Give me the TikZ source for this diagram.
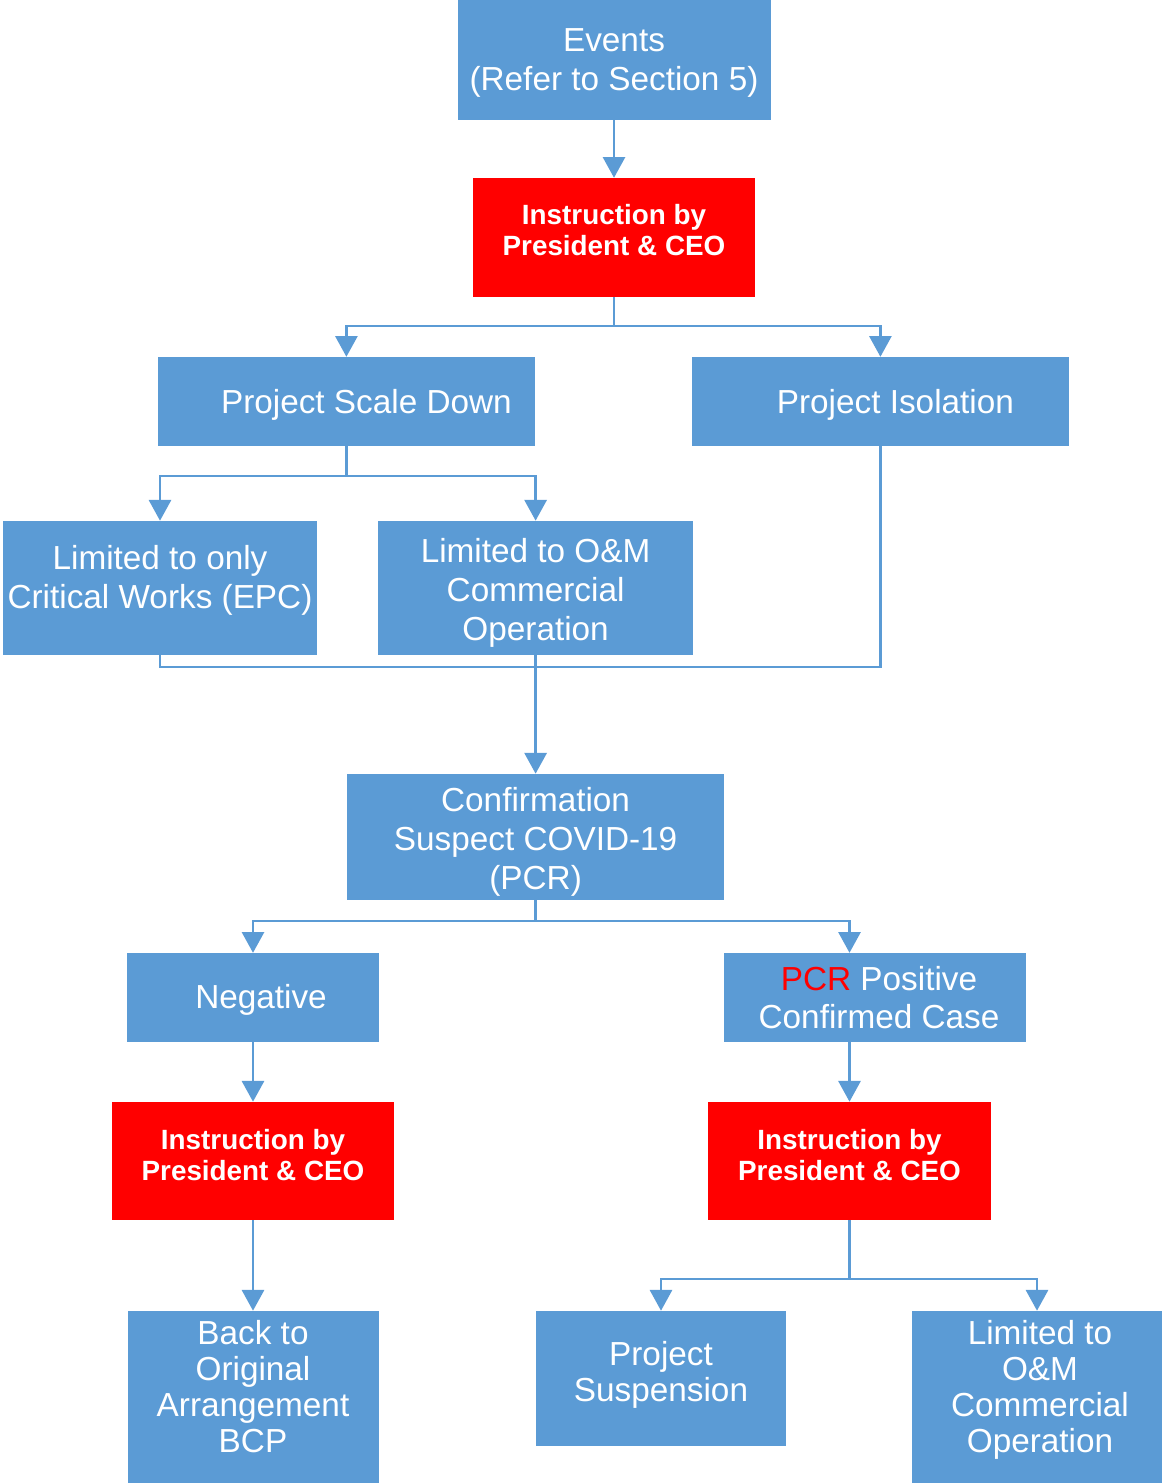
\documentclass[tikz,border=0pt]{standalone}
\usepackage{fontspec}
\setmainfont{Liberation Sans}
\usetikzlibrary{arrows.meta}
\definecolor{boxblue}{HTML}{5B9BD5}
\definecolor{linkblue}{HTML}{5B9BD5}
\tikzset{
  bluebox/.style={fill=boxblue, inner sep=0pt},
  redbox/.style={fill=red, inner sep=0pt},
  boxtext/.style={text=white, align=center, inner sep=0pt,
    font=\fontsize{23.7pt}{27.7pt}\selectfont},
  talltext/.style={boxtext, font=\fontsize{23.7pt}{25.6pt}\selectfont},
  redtext/.style={boxtext, font=\bfseries\fontsize{19.8pt}{22pt}\selectfont},
  wire/.style={draw=linkblue, line width=2.1pt},
  link/.style={wire, -{Triangle[width=0.55cm,length=0.52cm]}},
}
\begin{document}
\begin{tikzpicture}
    \useasboundingbox (0,0) rectangle (29.05,-37.075);

    % Top of the chart
    \node[bluebox, minimum width=7.825cm, minimum height=3cm,
      label={[boxtext, yshift=-0.075cm]center:Events\\(Refer to Section 5)}] (events) at (15.35,-1.5) {};
    \node[redbox, minimum width=7.05cm, minimum height=2.975cm,
      label={[redtext, yshift=0.2cm]center:Instruction by\\President \& CEO}] (instr1) at (15.35,-5.94) {};

    % Scale down or isolation
    \node[bluebox, minimum width=9.425cm, minimum height=2.225cm,
      label={[boxtext, xshift=0.5cm, yshift=-0.075cm]center:Project Scale Down}] (scale) at (8.66,-10.04) {};
    \node[bluebox, minimum width=9.425cm, minimum height=2.225cm,
      label={[boxtext, xshift=0.375cm, yshift=-0.075cm]center:Project Isolation}] (isol) at (22.01,-10.04) {};

    \node[bluebox, minimum width=7.85cm, minimum height=3.35cm,
      label={[boxtext, yshift=0.2cm]center:Limited to only\\Critical Works (EPC)}] (critical) at (4.0,-14.7) {};
    \node[bluebox, minimum width=7.875cm, minimum height=3.35cm,
      label={[boxtext, yshift=-0.125cm]center:Limited to O\&M\\Commercial\\Operation}] (omtop) at (13.39,-14.7) {};

    % PCR check
    \node[bluebox, minimum width=9.425cm, minimum height=3.15cm,
      label={[boxtext, yshift=-0.125cm]center:Confirmation\\Suspect COVID-19\\(PCR)}] (confirm) at (13.39,-20.925) {};
    \node[bluebox, minimum width=6.3cm, minimum height=2.225cm,
      label={[boxtext, xshift=0.2cm, yshift=-0.05cm]center:Negative}] (negative) at (6.325,-24.94) {};
    \node[bluebox, minimum width=7.55cm, minimum height=2.225cm,
      label={[boxtext, xshift=0.1cm]center:\textcolor{red}{PCR} Positive\\Confirmed Case}] (positive) at (21.875,-24.94) {};

    \node[redbox, minimum width=7.05cm, minimum height=2.95cm,
      label={[redtext, yshift=0.15cm]center:Instruction by\\President \& CEO}] (instr2) at (6.325,-29.025) {};
    \node[redbox, minimum width=7.075cm, minimum height=2.95cm,
      label={[redtext, yshift=0.15cm]center:Instruction by\\President \& CEO}] (instr3) at (21.2375,-29.025) {};

    % Outcomes
    \node[bluebox, minimum width=6.275cm, minimum height=4.3cm,
      label={[talltext, yshift=0.25cm]center:Back to\\Original\\Arrangement\\BCP}] (back) at (6.325,-34.925) {};
    \node[bluebox, minimum width=6.25cm, minimum height=3.375cm,
      label={[talltext, yshift=0.1cm]center:Project\\Suspension}] (suspend) at (16.525,-34.4625) {};
    \node[bluebox, minimum width=6.25cm, minimum height=4.3cm,
      label={[talltext, xshift=0.075cm, yshift=0.175cm]center:Limited to\\O\&M\\Commercial\\Operation}] (omlow) at (25.925,-34.925) {};

    % Junctions
    \coordinate (j1) at (15.35,-8.15);
    \coordinate (j2) at (8.66,-11.9);
    \coordinate (j3) at (13.39,-16.675);
    \coordinate (j4) at (13.39,-23.025);
    \coordinate (j5) at (21.2375,-31.975);

    % Connectors
    \draw[link] (events) -- (instr1);
    \draw[wire] (instr1) -- (j1);
    \draw[link] (j1) -| (scale);
    \draw[link] (j1) -| (isol);

    \draw[wire] (scale) -- (j2);
    \draw[link] (j2) -| (critical);
    \draw[link] (j2) -| (omtop);

    \draw[wire] (critical) |- (j3);
    \draw[wire] (isol) |- (j3);
    \draw[link] (omtop) -- (confirm);

    \draw[wire] (confirm) -- (j4);
    \draw[link] (j4) -| (negative);
    \draw[link] (j4) -| (positive.north -| instr3);
    \draw[link] (negative) -- (instr2);
    \draw[link] (positive.south -| instr3) -- (instr3);

    \draw[link] (instr2) -- (back);
    \draw[wire] (instr3) -- (j5);
    \draw[link] (j5) -| (suspend);
    \draw[link] (j5) -| (omlow);
\end{tikzpicture}
\end{document}
